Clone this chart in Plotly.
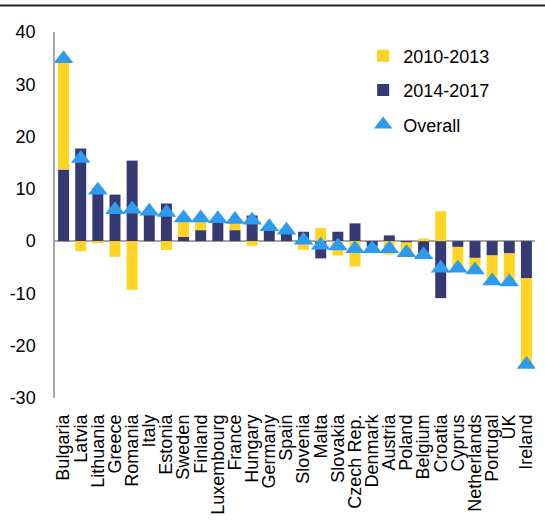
import plotly.graph_objects as go

countries = ["Bulgaria", "Latvia", "Lithuania", "Greece", "Romania", "Italy", "Estonia",
             "Sweden", "Finland", "Luxembourg", "France", "Hungary", "Germany", "Spain",
             "Slovenia", "Malta", "Slovakia", "Czech Rep.", "Denmark", "Austria", "Poland",
             "Belgium", "Croatia", "Cyprus", "Netherlands", "Portugal", "UK", "Ireland"]

change_2010_2013 = [21.2, -1.9, -0.4, -3.0, -9.3, 0.1, -1.7, 3.65, 2.35, 0.1, 2.05, -0.9,
                    0.2, 0.3, -1.65, 2.5, -2.75, -4.85, -0.45, -2.55, -2.0, 0.5, 5.7, -4.1,
                    -2.3, -4.85, -5.45, -16.5]

change_2014_2017 = [13.7, 17.7, 10.1, 8.9, 15.4, 5.6, 7.2, 0.8, 2.1, 4.2, 2.1, 4.9,
                    2.55, 1.8, 1.8, -3.3, 1.8, 3.4, -1.0, 1.1, -0.2, -3.1, -10.9, -1.1,
                    -3.2, -2.75, -2.35, -7.1]

overall = [34.9, 15.8, 9.75, 6.0, 6.1, 5.7, 5.5, 4.45, 4.45, 4.3, 4.15, 4.0, 2.75, 2.1,
           0.15, -0.8, -0.95, -1.45, -1.45, -1.45, -2.2, -2.6, -5.2, -5.2, -5.5, -7.6,
           -7.8, -23.6]

y_ticks = [-30, -20, -10, 0, 10, 20, 30, 40]
y_tick_labels = ["-30", "-20", "-10", "0", "10", "20", "30", "40"]

YELLOW = "#FFD422"
NAVY = "#353A72"
BLUE = "#2D9BF0"
FONT = "Liberation Sans, Arial, sans-serif"

fig = go.Figure()

# 2014-2017 goes first so it sits next to the zero line in the relative stack
fig.add_trace(go.Bar(
    x=countries, y=change_2014_2017, name="2014-2017",
    marker=dict(color=NAVY, line=dict(width=0)),
    legendgroup="b", legendrank=2,
))
fig.add_trace(go.Bar(
    x=countries, y=change_2010_2013, name="2010-2013",
    marker=dict(color=YELLOW, line=dict(width=0)),
    legendgroup="a", legendrank=1,
))
fig.add_trace(go.Scatter(
    x=countries, y=overall, name="Overall", mode="markers",
    marker=dict(symbol="triangle-up", size=17, color=BLUE, line=dict(width=0)),
    legendgroup="c", legendrank=3,
))

fig.update_layout(
    width=545, height=520,
    margin=dict(l=55, r=10, t=32, b=122),
    paper_bgcolor="white", plot_bgcolor="white",
    barmode="relative", bargap=0.36,
    font=dict(family=FONT, size=18, color="#000000"),
    legend=dict(
        x=0.642, y=0.985, xanchor="left", yanchor="top",
        traceorder="grouped", tracegroupgap=8,
        bgcolor="rgba(0,0,0,0)", borderwidth=0,
        font=dict(family=FONT, size=18, color="#000000"),
    ),
    xaxis=dict(
        type="category", range=[-0.5, 27.5], automargin=False,
        tickmode="array", tickvals=countries, ticktext=countries,
        tickangle=-90, showline=False, showgrid=False, ticks="",
        ticklabelstandoff=12,
        tickfont=dict(family=FONT, size=18, color="#000000"),
    ),
    yaxis=dict(
        range=[-30, 40], tickmode="array", tickvals=y_ticks, ticktext=y_tick_labels,
        automargin=False,
        showgrid=False, showline=True, linecolor="#A6A6A6", linewidth=1.5,
        zeroline=True, zerolinecolor="#A6A6A6", zerolinewidth=2,
        ticks="", ticklabelstandoff=14,
        tickfont=dict(family=FONT, size=18, color="#000000"),
    ),
    shapes=[dict(
        type="line", xref="paper", yref="paper",
        x0=-0.115, x1=1.021, y0=1.0724, y1=1.0724,
        line=dict(color="#222222", width=2),
    )],
)

fig.write_html("out.html")
